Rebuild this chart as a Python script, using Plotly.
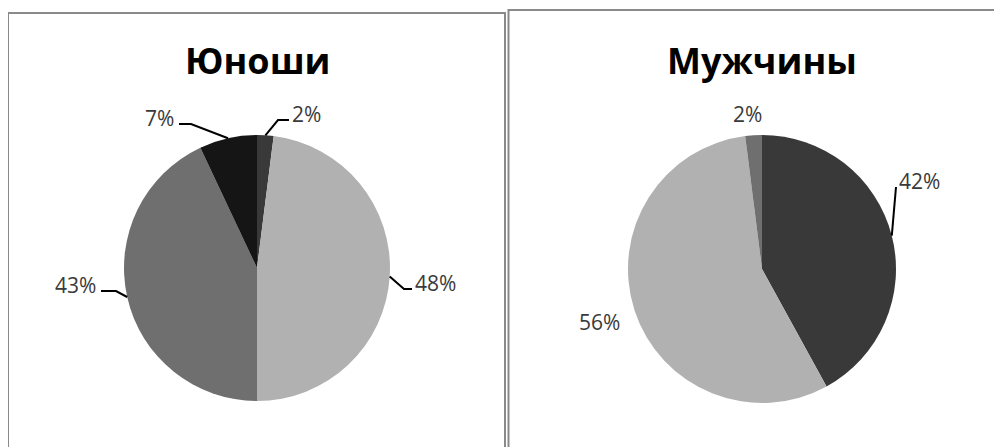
import math
import plotly.graph_objects as go

# ---------------- data ----------------
titles = ["Юноши", "Мужчины"]
categories_young = ["Категория 1", "Категория 2", "Категория 3", "Категория 4"]
values_young = [2, 48, 43, 7]
categories_men = ["Категория 1", "Категория 2", "Категория 3"]
values_men = [42, 56, 2]

# ---------------- style / layout ----------------
OFF = 8                      # page body margin of the html page
W, H = 1002 - OFF, 447 - OFF
slice_colors = ["#393939", "#b1b1b1", "#6f6f6f", "#151515"]
label_color = "#3a3a3a"
font_family = "Open Sans, Noto Sans, DejaVu Sans, sans-serif"

# pie boxes in window pixels: (left, top, size)
pie_boxes = [(124, 135, 266), (628, 135, 268)]
title_pos = [(257, 60), (762, 60)]

# label placement (window pixels): x, y, anchor, elbow length (None => no leader)
label_layout = [
    [(290, 114, "left", 11), (413, 283, "right_side", 8), (98, 285, "left_side", 15), (176, 118, "right", 12)],
    [(897, 181, "left", 0), (599, 322, "center", None), (747, 114, "center", None)],
]

fig = go.Figure()

datasets = [(categories_young, values_young), (categories_men, values_men)]
for (cats, vals), (bx, by, bs) in zip(datasets, pie_boxes):
    x0, y0 = bx - OFF, by - OFF
    fig.add_trace(go.Pie(
        labels=cats, values=vals, sort=False, direction="clockwise", rotation=0,
        marker=dict(colors=slice_colors[:len(vals)], line=dict(width=0)),
        textinfo="none", hoverinfo="label+percent", showlegend=False,
        domain=dict(x=[x0 / W, (x0 + bs) / W], y=[(H - y0 - bs) / H, (H - y0) / H]),
    ))

# invisible full-figure axes in window-pixel coordinates for annotations/shapes
fig.add_trace(go.Scatter(x=[OFF, OFF + W], y=[OFF, OFF + H], mode="markers", marker=dict(opacity=0),
                         hoverinfo="skip", showlegend=False))

shapes = []
annotations = []

# panel borders
shapes.append(dict(type="rect", xref="x", yref="y", x0=8, y0=13, x1=505, y1=470,
                   line=dict(color="#8a8a8a", width=2)))
shapes.append(dict(type="rect", xref="x", yref="y", x0=508.5, y0=10, x1=1020, y1=470,
                   line=dict(color="#8a8a8a", width=2)))

for t, (tx, ty) in zip(titles, title_pos):
    annotations.append(dict(x=tx, y=ty, xref="x", yref="y", text="<b>%s</b>" % t,
                            showarrow=False, xanchor="center", yanchor="middle",
                            font=dict(family=font_family, size=36, color="#000000")))

for (cats, vals), (bx, by, bs), labs in zip(datasets, pie_boxes, label_layout):
    cx, cy, r = bx + bs / 2, by + bs / 2, bs / 2
    total = sum(vals)
    cum = 0
    for v, (lx, ly, anch, elbow) in zip(vals, labs):
        mid = (cum + v / 2) / total * 2 * math.pi
        cum += v
        ex, ey = cx + r * math.sin(mid), cy - r * math.cos(mid)
        if anch in ("left", "right_side"):
            xanchor = "left"
        elif anch in ("right", "left_side"):
            xanchor = "right"
        else:
            xanchor = "center"
        annotations.append(dict(x=lx, y=ly, xref="x", yref="y", text="%d%%" % v,
                                showarrow=False, xanchor=xanchor, yanchor="middle",
                                font=dict(family=font_family, size=21, color=label_color)))
        if elbow is not None:
            ly2 = ly + 6
            if xanchor == "left":
                endx = lx - 1
                elbx = endx - elbow
            else:
                endx = lx + 3
                elbx = endx + elbow
            shapes.append(dict(type="path", xref="x", yref="y",
                               path="M %.1f %.1f L %.1f %.1f L %.1f %.1f" % (ex, ey, elbx, ly2, endx, ly2),
                               line=dict(color="#000000", width=2)))

fig.update_layout(
    width=W, height=H, margin=dict(l=0, r=0, t=0, b=0),
    paper_bgcolor="white", plot_bgcolor="rgba(0,0,0,0)",
    xaxis=dict(range=[OFF, OFF + W], visible=False, fixedrange=True),
    yaxis=dict(range=[OFF + H, OFF], visible=False, fixedrange=True),
    shapes=shapes, annotations=annotations, showlegend=False,
)

fig.write_html("out.html")
